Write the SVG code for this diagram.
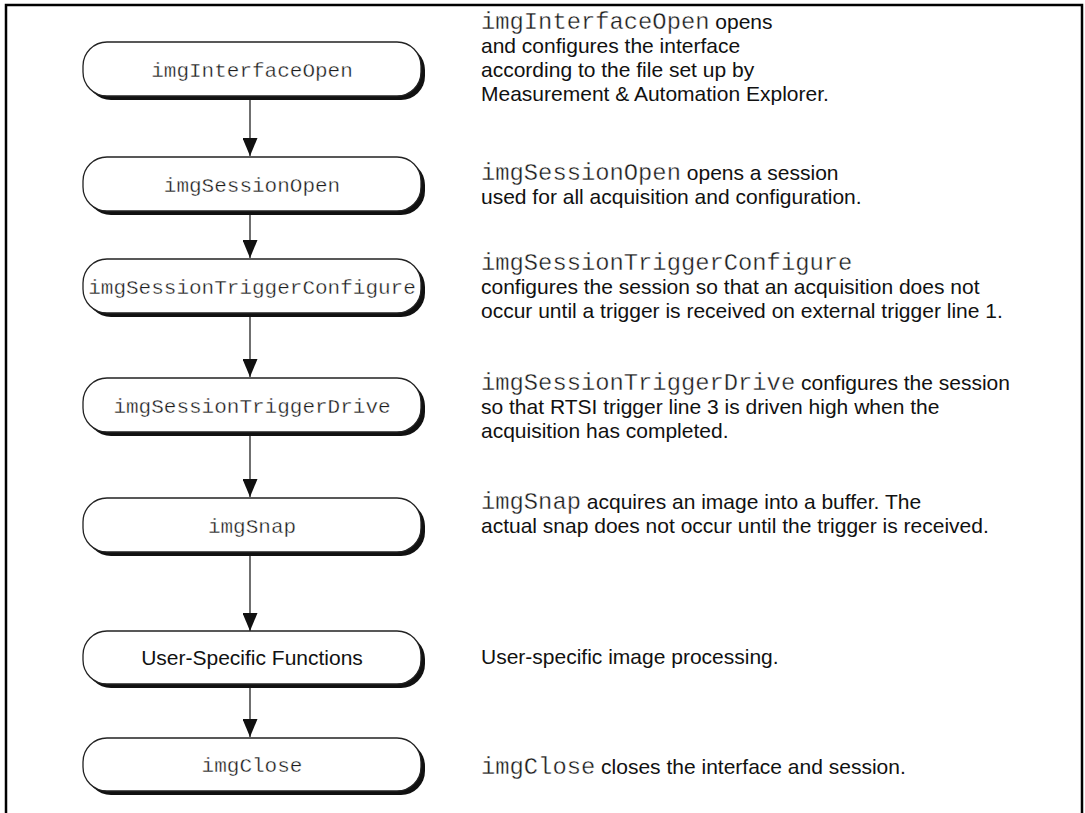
<svg xmlns="http://www.w3.org/2000/svg" width="1085" height="813" viewBox="0 0 1085 813">
  <style>
    .frame { fill: none; stroke: #000; stroke-width: 2.5; }
    .shadow { fill: #111; }
    .box { fill: #fff; stroke: #222; stroke-width: 1.3; }
    .mono { font-family: "Liberation Mono", "Courier New", monospace; fill: #1c1c1c; stroke: #fff; stroke-width: 0.35; }
    .label { font-size: 21px; text-anchor: middle; }
    .sans { font-family: "Liberation Sans", Arial, Helvetica, sans-serif; fill: #111; }
    .note { font-size: 21px; }
    .note .mono { font-size: 23.8px; }
    .edge { stroke: #222; stroke-width: 1.3; fill: none; marker-end: url(#tri); }
  </style>
  <defs>
    <marker id="tri" markerWidth="18" markerHeight="15" refX="18" refY="7.5" orient="auto" markerUnits="userSpaceOnUse" viewBox="0 0 18 15">
      <path d="M0,0 L18,7.5 L0,15 Z" fill="#111"/>
    </marker>
  </defs>

  <rect width="1085" height="813" fill="#fff"/>
  <path class="frame" d="M6,815 V5 H1082 V815"/>

  <!-- connectors -->
  <g id="connectors">
    <path class="edge" d="M250,100 V156"/>
    <path class="edge" d="M250,215 V258"/>
    <path class="edge" d="M250,317 V377"/>
    <path class="edge" d="M250,436 V497"/>
    <path class="edge" d="M250,556 V631"/>
    <path class="edge" d="M250,688 V737"/>
  </g>

  <!-- flow steps -->
  <g id="node-interface-open">
    <rect class="shadow" x="87" y="46" width="338" height="54" rx="24"/>
    <rect class="box" x="83" y="42" width="338" height="54" rx="24"/>
    <text class="mono label" x="252" y="77">imgInterfaceOpen</text>
  </g>
  <g id="node-session-open">
    <rect class="shadow" x="87" y="161" width="338" height="54" rx="24"/>
    <rect class="box" x="83" y="157" width="338" height="54" rx="24"/>
    <text class="mono label" x="252" y="192">imgSessionOpen</text>
  </g>
  <g id="node-trigger-configure">
    <rect class="shadow" x="87" y="263" width="338" height="54" rx="24"/>
    <rect class="box" x="83" y="259" width="338" height="54" rx="24"/>
    <text class="mono label" x="252" y="294">imgSessionTriggerConfigure</text>
  </g>
  <g id="node-trigger-drive">
    <rect class="shadow" x="87" y="382" width="338" height="54" rx="24"/>
    <rect class="box" x="83" y="378" width="338" height="54" rx="24"/>
    <text class="mono label" x="252" y="413">imgSessionTriggerDrive</text>
  </g>
  <g id="node-snap">
    <rect class="shadow" x="87" y="502" width="338" height="54" rx="24"/>
    <rect class="box" x="83" y="498" width="338" height="54" rx="24"/>
    <text class="mono label" x="252" y="533">imgSnap</text>
  </g>
  <g id="node-user-functions">
    <rect class="shadow" x="87" y="635" width="338" height="53" rx="24"/>
    <rect class="box" x="83" y="631" width="338" height="53" rx="24"/>
    <text class="sans label" x="252" y="665">User-Specific Functions</text>
  </g>
  <g id="node-close">
    <rect class="shadow" x="87" y="742" width="338" height="53" rx="24"/>
    <rect class="box" x="83" y="738" width="338" height="53" rx="24"/>
    <text class="mono label" x="252" y="772">imgClose</text>
  </g>

  <!-- step descriptions -->
  <g id="notes" class="sans note">
    <text x="481" y="29"><tspan class="mono">imgInterfaceOpen</tspan> opens</text>
    <text x="481" y="53">and configures the interface</text>
    <text x="481" y="77">according to the file set up by</text>
    <text x="481" y="101">Measurement &amp; Automation Explorer.</text>

    <text x="481" y="180"><tspan class="mono">imgSessionOpen</tspan> opens a session</text>
    <text x="481" y="204">used for all acquisition and configuration.</text>

    <text x="481" y="270"><tspan class="mono">imgSessionTriggerConfigure</tspan></text>
    <text x="481" y="294">configures the session so that an acquisition does not</text>
    <text x="481" y="318">occur until a trigger is received on external trigger line 1.</text>

    <text x="481" y="390"><tspan class="mono">imgSessionTriggerDrive</tspan> configures the session</text>
    <text x="481" y="414">so that RTSI trigger line 3 is driven high when the</text>
    <text x="481" y="438">acquisition has completed.</text>

    <text x="481" y="509"><tspan class="mono">imgSnap</tspan> acquires an image into a buffer. The</text>
    <text x="481" y="533">actual snap does not occur until the trigger is received.</text>

    <text x="481" y="664">User-specific image processing.</text>

    <text x="481" y="774"><tspan class="mono">imgClose</tspan> closes the interface and session.</text>
  </g>
</svg>
